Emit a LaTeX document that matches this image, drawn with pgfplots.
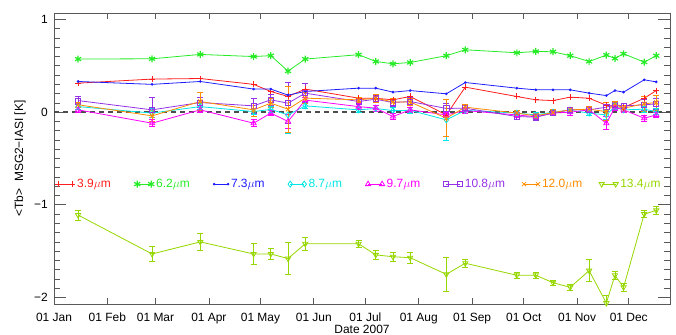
\documentclass[border=0pt]{standalone}
\usepackage{pgfplots}
\pgfplotsset{compat=1.18}
\usepackage{pgfplotstable}
\usepackage{fontspec}
\setmainfont{Liberation Sans}
\definecolor{cR}{RGB}{255,30,30}
\definecolor{cG}{RGB}{40,235,40}
\definecolor{cB}{RGB}{30,30,255}
\definecolor{cC}{RGB}{0,230,230}
\definecolor{cM}{RGB}{255,0,255}
\definecolor{cP}{RGB}{150,50,230}
\definecolor{cO}{RGB}{255,140,0}
\definecolor{cY}{RGB}{150,215,0}
\pgfplotstableread{
d   r     g     b     c     ce   m     me   p     pe   o     oe   y     ye
14  0.313 0.573 0.331 0.06  0.03 0.025 0.03 0.125 0.04 0.08  0.03 -1.11 0.054
57  0.357 0.576 0.300 -0.01 0.05 -0.119 0.04 0.025 0.13 -0.04 0.06 -1.53 0.077
85  0.363 0.623 0.331 0.06  0.03 0.025 0.03 0.104 0.05 0.115 0.10 -1.40 0.09
116 0.300 0.600 0.249 0.006 0.03 -0.119 0.04 0.068 0.08 0.025 0.07 -1.53 0.11
126 0.223 0.610 0.249 0.03  0.03 -0.01 0.03 0.133 0.06 0.097 0.05 -1.53 0.06
136 0.169 0.443 0.184 -0.03 0.20 -0.10 0.08 0.097 0.22 0.032 0.25 -1.58 0.17
146 0.249 0.573 0.223 0.068 0.03 0.13  0.03 0.205 0.10 0.151 0.06 -1.42 0.067
177 0.151 0.620 0.259 0.025 0.03 0.06  0.03 0.115 0.03 0.133 0.03 -1.42 0.035
187 0.150 0.547 0.259 0.04  0.03 0.043 0.03 0.14  0.04 0.15  0.04 -1.54 0.05
197 0.133 0.522 0.216 0.017 0.03 -0.047 0.03 0.104 0.04 0.11 0.04 -1.56 0.045
207 0.169 0.536 0.233 0.02  0.03 0.025 0.03 0.115 0.04 0.11  0.04 -1.57 0.058
228 -0.03 0.609 0.198 -0.083 0.22 -0.03 0.03 0.04 0.05 -0.065 0.20 -1.75 0.18
239 0.270 0.673 0.320 0.02  0.03 0.017 0.03 0.043 0.03 0.054 0.03 -1.63 0.04
269 0.169 0.641 0.259 -0.01 0.03 -0.03 0.03 -0.047 0.03 -0.01 0.03 -1.76 0.03
280 0.133 0.655 0.241 -0.03 0.03 -0.05 0.03 -0.054 0.03 -0.04 0.03 -1.76 0.03
290 0.125 0.652 0.241 0.0   0.03 -0.01 0.03 -0.01 0.03 -0.004 0.03 -1.84 0.03
300 0.162 0.609 0.241 0.02  0.03 0.0   0.03 0.025 0.03 0.025 0.03 -1.89 0.03
311 0.150 0.547 0.205 -0.01 0.03 0.025 0.03 0.025 0.03 0.032 0.03 -1.71 0.12
321 0.075 0.616 0.179 -0.03 0.05 -0.12 0.07 0.054 0.05 0.006 0.10 -2.06 0.08
326 0.060 0.580 0.233 0.06  0.03 0.05  0.03 0.079 0.03 0.09  0.03 -1.76 0.045
331 0.050 0.630 0.216 0.025 0.03 0.025 0.03 0.068 0.03 0.043 0.03 -1.89 0.045
343 0.150 0.540 0.349 0.032 0.03 -0.065 0.03 0.079 0.06 0.09 0.08 -1.10 0.036
350 0.233 0.609 0.327 0.006 0.03 -0.03 0.03 0.09  0.06 0.104 0.08 -1.06 0.04
}\datatable
\newcommand{\fs}{\fontsize{12}{14}\selectfont}
\begin{document}
\begin{tikzpicture}
\useasboundingbox (-54bp,-31bp) rectangle (622bp,304bp);
\begin{axis}[
  at={(0bp,0bp)}, anchor=south west,
  scale only axis, width=616bp, height=291bp,
  xmin=0, xmax=358, ymin=-2.07, ymax=1.07,
  xtick={0,31,59,90,120,151,181,212,243,273,304,334},
  xticklabels={01 Jan,01 Feb,01 Mar,01 Apr,01 May,01 Jun,01 Jul,01 Aug,01 Sep,01 Oct,01 Nov,01 Dec},
  ytick={-2,-1,0,1}, yticklabels={−2,−1,0,1},
  minor y tick num=9,
  major tick length=12bp, minor tick length=6bp,
  xtick style={/pgfplots/major tick length=5.7bp},
  tick style={black!65, line width=0.7bp},
  axis line style={black!65, line width=0.7bp},
  tick label style={font=\fs},
  xticklabel style={anchor=base, yshift=-17bp},
  yticklabel style={anchor=east, inner sep=0pt, xshift=-6bp},
  every axis x label/.style={at={(axis description cs:0.5,0)}, anchor=center, yshift=-25bp, font=\fs},
  every axis y label/.style={at={(axis description cs:-0.0552,0.5)}, rotate=90, anchor=center, font=\fs},
  xlabel={Date 2007},
  ylabel={<Tb>\ \ MSG2−IASI [K]},
  legend columns=8,
  legend style={at={(axis description cs:0,0.412)}, anchor=west, draw=none, fill=none, font=\fs,
    inner xsep=1bp, /tikz/every even column/.append style={column sep=15bp}},
  legend cell align=left,
  legend image code/.code={\draw[#1] plot coordinates {(0bp,0bp) (14bp,0bp)};},
  every axis plot/.append style={line width=0.8bp},
  error bars/error bar style={line width=0.8bp},
  error bars/error mark options={rotate=90, mark size=3bp, line width=0.8bp},
]
\addplot[forget plot, black!70, line width=1.5bp, dash pattern=on 4.5bp off 4.5bp] coordinates {(0,0) (358,0)};
\addplot[cR, mark=+, mark size=3bp, mark options={solid}] table[x=d,y=r] {\datatable};
\addlegendentry{\makebox[40bp][l]{\textcolor{cR}{3.9$\mu$m}}}
\addplot[cG, mark=asterisk, mark size=3.5bp, mark options={solid, line width=1.2bp}] table[x=d,y=g] {\datatable};
\addlegendentry{\makebox[40bp][l]{\textcolor{cG}{6.2$\mu$m}}}
\addplot[cB, mark=*, mark size=0.9bp] table[x=d,y=b] {\datatable};
\addlegendentry{\makebox[40bp][l]{\textcolor{cB}{7.3$\mu$m}}}
\addplot[cC, mark=diamond, mark size=3bp, error bars/.cd, y dir=both, y explicit] table[x=d,y=c,y error=ce] {\datatable};
\addlegendentry{\makebox[40bp][l]{\textcolor{cC}{8.7$\mu$m}}}
\addplot[cM, mark=triangle, mark size=3bp, error bars/.cd, y dir=both, y explicit] table[x=d,y=m,y error=me] {\datatable};
\addlegendentry{\makebox[40bp][l]{\textcolor{cM}{9.7$\mu$m}}}
\addplot[cP, mark=square, mark size=2.6bp, error bars/.cd, y dir=both, y explicit] table[x=d,y=p,y error=pe] {\datatable};
\addlegendentry{\makebox[40bp][l]{\textcolor{cP}{10.8$\mu$m}}}
\addplot[cO, mark=x, mark size=3bp, error bars/.cd, y dir=both, y explicit] table[x=d,y=o,y error=oe] {\datatable};
\addlegendentry{\makebox[40bp][l]{\textcolor{cO}{12.0$\mu$m}}}
\addplot[cY, mark=triangle, mark size=3bp, mark options={rotate=180}, error bars/.cd, y dir=both, y explicit] table[x=d,y=y,y error=ye] {\datatable};
\addlegendentry{\makebox[40bp][l]{\textcolor{cY}{13.4$\mu$m}}}
\end{axis}
\end{tikzpicture}
\end{document}
